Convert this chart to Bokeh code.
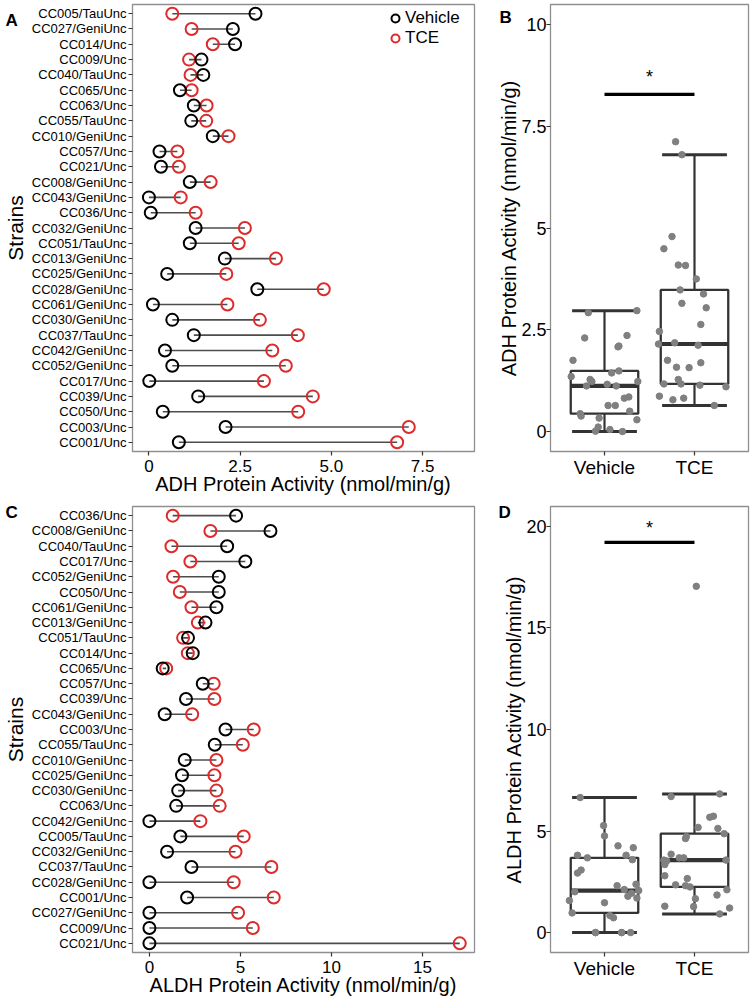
import numpy as np
from bokeh.plotting import figure
from bokeh.models import ColumnDataSource, Range1d, FixedTicker, Legend, LegendItem, GridBox
from bokeh.embed import file_html
from bokeh.resources import INLINE
from bokeh.core.properties import value

FONT = "Liberation Sans"
BLACK = "#000000"
RED = "#dd2a2a"
SEG = "#4d4d4d"
FRAME = "#8f8f8f"
BOXC = "#333333"
DOT = "#808080"

groups = ["Vehicle", "TCE"]

# ---------------- ADH (panels A, B) ----------------
strains_adh = ["CC005/TauUnc", "CC027/GeniUnc", "CC014/Unc", "CC009/Unc", "CC040/TauUnc",
               "CC065/Unc", "CC063/Unc", "CC055/TauUnc", "CC010/GeniUnc", "CC057/Unc",
               "CC021/Unc", "CC008/GeniUnc", "CC043/GeniUnc", "CC036/Unc", "CC032/GeniUnc",
               "CC051/TauUnc", "CC013/GeniUnc", "CC025/GeniUnc", "CC028/GeniUnc", "CC061/GeniUnc",
               "CC030/GeniUnc", "CC037/TauUnc", "CC042/GeniUnc", "CC052/GeniUnc", "CC017/Unc",
               "CC039/Unc", "CC050/Unc", "CC003/Unc", "CC001/Unc"]
adh_vehicle = [2.92, 2.30, 2.36, 1.44, 1.49, 0.85, 1.23, 1.16, 1.75, 0.29,
               0.33, 1.12, 0.00, 0.05, 1.28, 1.12, 2.08, 0.50, 2.97, 0.11,
               0.64, 1.23, 0.44, 0.64, 0.01, 1.35, 0.38, 2.10, 0.82]
adh_tce = [0.64, 1.17, 1.75, 1.10, 1.14, 1.17, 1.58, 1.57, 2.18, 0.78,
           0.82, 1.69, 0.87, 1.28, 2.63, 2.46, 3.48, 2.12, 4.79, 2.15,
           3.04, 4.08, 3.38, 3.75, 3.15, 4.49, 4.09, 7.12, 6.80]
adh_jitter_vehicle = [-0.18, -0.22, 0.25, 0.08, 0.16, 0.27, -0.14, 0.03, -0.35, 0.36,
                      -0.06, -0.20, 0.20, 0.06, -0.16, 0.13, 0.15, 0.28, 0.36, -0.07,
                      0.04, 0.37, -0.27, 0.12, -0.10, -0.37, -0.26, 0.16, 0.22]
adh_jitter_tce = [0.22, -0.34, -0.30, 0.35, 0.06, -0.15, -0.20, -0.06, -0.22, -0.24,
                  -0.12, 0.07, -0.39, -0.18, 0.07, -0.39, -0.16, 0.04, -0.25, -0.40,
                  0.13, -0.10, 0.10, 0.02, -0.14, -0.34, -0.18, -0.21, -0.14]

# ---------------- ALDH (panels C, D) ----------------
strains_aldh = ["CC036/Unc", "CC008/GeniUnc", "CC040/TauUnc", "CC017/Unc", "CC052/GeniUnc",
                "CC050/Unc", "CC061/GeniUnc", "CC013/GeniUnc", "CC051/TauUnc", "CC014/Unc",
                "CC065/Unc", "CC057/Unc", "CC039/Unc", "CC043/GeniUnc", "CC003/Unc",
                "CC055/TauUnc", "CC010/GeniUnc", "CC025/GeniUnc", "CC030/GeniUnc", "CC063/Unc",
                "CC042/GeniUnc", "CC005/TauUnc", "CC032/GeniUnc", "CC037/TauUnc", "CC028/GeniUnc",
                "CC001/Unc", "CC027/GeniUnc", "CC009/Unc", "CC021/Unc"]
aldh_vehicle = [4.76, 6.65, 4.27, 5.27, 3.81, 3.81, 3.68, 3.08, 2.12, 2.38,
                0.73, 2.93, 2.01, 0.84, 4.18, 3.59, 1.94, 1.79, 1.58, 1.47,
                0.00, 1.70, 0.97, 2.31, 0.00, 2.07, 0.00, 0.00, 0.00]
aldh_tce = [1.28, 3.35, 1.21, 2.25, 1.30, 1.67, 2.31, 2.66, 1.85, 2.11,
            0.92, 3.53, 3.57, 2.35, 5.73, 5.13, 3.68, 3.57, 3.68, 3.86,
            2.80, 5.18, 4.73, 6.70, 4.63, 6.83, 4.87, 5.68, 17.05]
aldh_jitter_vehicle = [0.00, -0.27, 0.15, -0.01, -0.30, 0.24, -0.19, -0.26, 0.22, 0.35,
                       0.10, -0.30, -0.33, 0.06, 0.32, 0.31, 0.30, 0.26, -0.39, 0.00,
                       -0.10, 0.36, -0.36, 0.14, 0.19, 0.38, 0.29, 0.19, -0.10]
aldh_jitter_tce = [-0.01, -0.33, 0.39, -0.05, -0.33, 0.01, -0.10, -0.08, 0.25, 0.36,
                   0.28, -0.31, -0.34, -0.21, 0.21, 0.26, -0.17, 0.35, -0.12, -0.26,
                   -0.33, 0.04, -0.09, -0.26, -0.10, 0.28, 0.33, 0.17, 0.02]

adh_xticks = [0, 2.5, 5, 7.5]
adh_xticklabels = ["0", "2.5", "5.0", "7.5"]
aldh_xticks = [0, 5, 10, 15]
aldh_xticklabels = ["0", "5", "10", "15"]
adh_box_yticks = [0, 2.5, 5, 7.5, 10]
adh_box_yticklabels = ["0", "2.5", "5", "7.5", "10"]
aldh_box_yticks = [0, 5, 10, 15, 20]
aldh_box_yticklabels = ["0", "5", "10", "15", "20"]

panel_letters = ["A", "B", "C", "D"]

PAGE_W, PAGE_H = 750, 1001
LEFT_W, RIGHT_W = 488, 262
L_BORDER = 132
LEFT_FRAME_W, RIGHT_FRAME_W = 342, 198
R_BORDER = RIGHT_W - 62 - RIGHT_FRAME_W
TOP_BORDER, BOTTOM_BORDER = 4, 49


def style_axis(ax, tick_px, title_px, label_standoff, title_standoff):
    ax.major_label_text_font = FONT
    ax.major_label_text_font_size = tick_px
    ax.major_label_text_color = BLACK
    ax.axis_label_text_font = FONT
    ax.axis_label_text_font_size = title_px
    ax.axis_label_text_font_style = "normal"
    ax.axis_label_text_color = BLACK
    ax.axis_line_color = None
    ax.major_tick_line_color = BOXC
    ax.major_tick_line_width = 1.2
    ax.major_tick_in = 0
    ax.major_tick_out = 4
    ax.minor_tick_line_color = None
    ax.major_label_standoff = label_standoff
    ax.axis_label_standoff = title_standoff


def base_style(p):
    p.grid.visible = False
    p.outline_line_color = FRAME
    p.outline_line_width = 1.3
    p.background_fill_color = "white"
    p.border_fill_color = "white"


def dumbbell(strains, veh, tce, xr, ticks, ticklabels, xtitle, height, top, bottom,
             frame_h, with_legend):
    n = len(strains)
    ypos = [n - i for i in range(n)]
    yr = (0.4, n + 0.6)
    src = ColumnDataSource(dict(strain=strains, y=ypos, veh=veh, tce=tce))
    p = figure(width=LEFT_W, height=height, x_range=Range1d(*xr), y_range=Range1d(*yr),
               output_backend="svg", toolbar_location=None,
               min_border_left=L_BORDER, min_border_right=LEFT_W - L_BORDER - LEFT_FRAME_W,
               min_border_top=top, min_border_bottom=bottom)
    base_style(p)
    p.segment(x0="veh", y0="y", x1="tce", y1="y", source=src, line_color=SEG, line_width=1.6)
    r_red = p.scatter(x="tce", y="y", source=src, marker="circle", size=12, fill_color=None,
                      line_color=RED, line_width=2)
    r_blk = p.scatter(x="veh", y="y", source=src, marker="circle", size=12, fill_color=None,
                      line_color=BLACK, line_width=2)
    p.xaxis.ticker = FixedTicker(ticks=ticks)
    p.xaxis.major_label_overrides = {t: l for t, l in zip(ticks, ticklabels)}
    p.xaxis.axis_label = xtitle
    style_axis(p.xaxis[0], "17px", "20px", 4, -2)
    p.yaxis.ticker = FixedTicker(ticks=ypos)
    p.yaxis.major_label_overrides = {y: s for y, s in zip(ypos, strains)}
    p.yaxis.axis_label = "Strains"
    style_axis(p.yaxis[0], "13px", "21px", 2, 2)
    if with_legend:
        leg = Legend(items=[LegendItem(label="Vehicle", renderers=[r_blk]),
                            LegendItem(label="TCE", renderers=[r_red])],
                     location=(253, frame_h - 44), orientation="vertical",
                     glyph_width=20, glyph_height=20, label_height=19, label_standoff=-7,
                     padding=2, spacing=-1, margin=0, border_line_color=None,
                     background_fill_alpha=0, label_text_font=FONT, label_text_font_size="17px",
                     label_text_color=BLACK)
        p.add_layout(leg)
    return p


def box_stats(vals):
    v = np.asarray(vals, dtype=float)
    q1, med, q3 = np.percentile(v, [25, 50, 75])
    iqr = q3 - q1
    lo = v[v >= q1 - 1.5 * iqr].min()
    hi = v[v <= q3 + 1.5 * iqr].max()
    return q1, med, q3, lo, hi


def boxplot(veh, tce, jv, jt, yr, ticks, ticklabels, ytitle, height, top, bottom, sig_y, star_y):
    xr = (0.4, 2.6)
    p = figure(width=RIGHT_W, height=height, x_range=Range1d(*xr), y_range=Range1d(*yr),
               output_backend="svg", toolbar_location=None,
               min_border_left=62, min_border_right=R_BORDER,
               min_border_top=top, min_border_bottom=bottom)
    base_style(p)
    xs = [1, 2]
    stats = [box_stats(veh), box_stats(tce)]
    bs = ColumnDataSource(dict(
        x=xs, q1=[s[0] for s in stats], med=[s[1] for s in stats], q3=[s[2] for s in stats],
        lo=[s[3] for s in stats], hi=[s[4] for s in stats],
        cl=[x - 0.36 for x in xs], cr=[x + 0.36 for x in xs],
        bl=[x - 0.375 for x in xs], br=[x + 0.375 for x in xs]))
    p.segment(x0="x", y0="lo", x1="x", y1="hi", source=bs, line_color=BOXC, line_width=2.2)
    p.segment(x0="cl", y0="lo", x1="cr", y1="lo", source=bs, line_color=BOXC, line_width=3)
    p.segment(x0="cl", y0="hi", x1="cr", y1="hi", source=bs, line_color=BOXC, line_width=3)
    p.vbar(x="x", width=0.75, bottom="q1", top="q3", source=bs, fill_color="white",
           line_color=BOXC, line_width=2.3)
    p.segment(x0="bl", y0="med", x1="br", y1="med", source=bs, line_color=BOXC, line_width=4.2)
    dx = [1 + j for j in jv] + [2 + j for j in jt]
    dy = list(veh) + list(tce)
    p.scatter(x=dx, y=dy, marker="circle", size=6.5, fill_color=DOT, line_color=DOT)
    p.segment(x0=[1], y0=[sig_y], x1=[2], y1=[sig_y], line_color=BLACK, line_width=3.3)
    p.text(x=[1.5], y=[star_y], text=["*"], text_font=value(FONT), text_font_size="18px",
           text_align="center", text_baseline="alphabetic", text_color=BLACK)
    p.xaxis.ticker = FixedTicker(ticks=xs)
    p.xaxis.major_label_overrides = {x: g for x, g in zip(xs, groups)}
    style_axis(p.xaxis[0], "19px", "19px", 1, 0)
    p.yaxis.ticker = FixedTicker(ticks=ticks)
    p.yaxis.major_label_overrides = {t: l for t, l in zip(ticks, ticklabels)}
    p.yaxis.axis_label = ytitle
    style_axis(p.yaxis[0], "18px", "20px", 0, -2)
    return p


pA = dumbbell(strains_adh, adh_vehicle, adh_tce, (-0.45, 8.92), adh_xticks, adh_xticklabels,
              "ADH Protein Activity (nmol/min/g)", 497, TOP_BORDER, 46, 447, True)
pB = boxplot(adh_vehicle, adh_tce, adh_jitter_vehicle, adh_jitter_tce, (-0.49, 10.49),
             adh_box_yticks, adh_box_yticklabels, "ADH Protein Activity (nmol/min/g)",
             497, TOP_BORDER, 46, 8.28, 8.70)
pC = dumbbell(strains_aldh, aldh_vehicle, aldh_tce, (-0.93, 17.86), aldh_xticks, aldh_xticklabels,
              "ALDH Protein Activity (nmol/min/g)", 504, 9, BOTTOM_BORDER, 446, False)
pD = boxplot(aldh_vehicle, aldh_tce, aldh_jitter_vehicle, aldh_jitter_tce, (-0.98, 20.98),
             aldh_box_yticks, aldh_box_yticklabels, "ALDH Protein Activity (nmol/min/g)",
             504, 9, BOTTOM_BORDER, 19.21, 19.93)

# transparent overlay carrying the panel letters. It starts in an empty first row/column
# (zero size), so only its right/bottom borders get aligned with the panels' borders;
# its ranges make data units equal page pixels.
overlay = figure(width=PAGE_W, height=PAGE_H,
                 x_range=Range1d(0, PAGE_W - R_BORDER),
                 y_range=Range1d(PAGE_H - BOTTOM_BORDER, 0),
                 x_axis_type=None, y_axis_type=None, output_backend="svg", toolbar_location=None,
                 min_border=0)
overlay.outline_line_color = None
overlay.background_fill_alpha = 0
overlay.border_fill_alpha = 0
letter_x = [5, 499, 5, 498]
letter_y = [10, 7, 502, 502]
overlay.text(x=letter_x, y=letter_y, text=panel_letters, text_font=value(FONT),
             text_font_size="17px", text_font_style="bold", text_color=BLACK,
             text_baseline="top", text_align="left")

layout = GridBox(children=[(pA, 1, 1), (pB, 1, 2), (pC, 2, 1), (pD, 2, 2), (overlay, 0, 0, 3, 3)],
                 spacing=0)
open("out.html", "w").write(file_html(layout, INLINE))
